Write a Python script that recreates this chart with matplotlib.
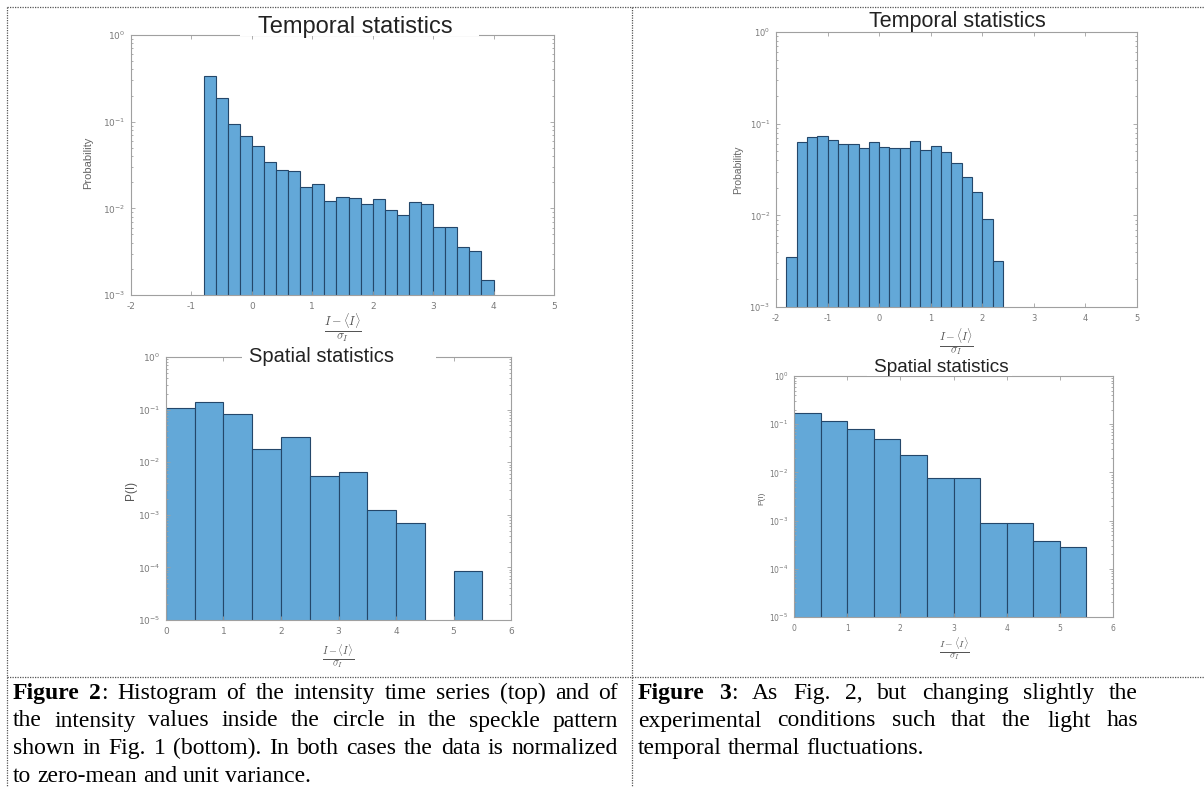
import numpy as np
import matplotlib
matplotlib.use("Agg")
import matplotlib.pyplot as plt
from matplotlib.lines import Line2D
from matplotlib.patches import Rectangle
from matplotlib.ticker import LogLocator, NullFormatter

W, H = 1204, 787

# --- data ---
# Figure 2, top: temporal histogram (bins of 0.2 from -0.8)
tl_start, tl_width = -0.8, 0.2
tl_values = [0.336, 0.189, 0.093, 0.068, 0.052, 0.034, 0.0277, 0.027, 0.0174, 0.019,
             0.012, 0.0134, 0.0133, 0.0111, 0.0129, 0.0096, 0.0084, 0.0117, 0.0111,
             0.0061, 0.0061, 0.0036, 0.0032, 0.0015]
# Figure 3, top: temporal histogram (bins of 0.2 from -1.8)
tr_start, tr_width = -1.8, 0.2
tr_values = [0.0035, 0.0625, 0.072, 0.074, 0.066, 0.060, 0.060, 0.054, 0.0625, 0.056,
             0.054, 0.054, 0.065, 0.051, 0.057, 0.049, 0.037, 0.026, 0.018, 0.0092, 0.0032]
# Figure 2, bottom: spatial histogram (bins of 0.5 from 0)
bl_start, bl_width = 0.0, 0.5
bl_values = [0.105, 0.142, 0.084, 0.0177, 0.0295, 0.0055, 0.0064, 0.00123, 0.00071, 0, 8.5e-5]
# Figure 3, bottom: spatial histogram
br_start, br_width = 0.0, 0.5
br_values = [0.171, 0.115, 0.079, 0.049, 0.023, 0.0078, 0.0078, 0.00088, 0.00088, 0.00037, 0.00028]

caption_left = [
    [[("Figure", "bold")], [("2", "bold"), (":", "normal")], "Histogram", "of", "the",
     "intensity", "time", "series", "(top)", "and", "of"],
    "the intensity values inside the circle in the speckle pattern".split(),
    "shown in Fig. 1 (bottom). In both cases the data is normalized".split(),
    "to zero-mean and unit variance.".split(),
]
caption_right = [
    [[("Figure", "bold")], [("3", "bold"), (":", "normal")], "As", "Fig.", "2,", "but",
     "changing", "slightly", "the"],
    "experimental conditions such that the light has".split(),
    "temporal thermal fluctuations.".split(),
]

plt.rcParams['mathtext.fontset'] = 'cm'
plt.rcParams['axes.unicode_minus'] = False
fig = plt.figure(figsize=(W / 100, H / 100), dpi=100)

bar_face = '#63a8d8'
bar_edge = '#24476a'
axis_col = '#a0a0a0'
tick_col = '#7a7a7a'


def px_axes(l, t, r, b):
    return fig.add_axes([l / W, 1 - b / H, (r - l) / W, (b - t) / H])


def draw_hist(ax, start, width, values, xlim, ylim, xticks, fs):
    vals = np.array(values, dtype=float)
    left = start + width * np.arange(len(vals))
    keep = vals > 0
    ax.bar(left[keep], vals[keep], width=width, align='edge', log=True,
           color=bar_face, edgecolor=bar_edge, linewidth=0.8)
    ax.set_xlim(*xlim)
    ax.set_ylim(*ylim)
    ax.set_xticks(xticks)
    ax.yaxis.set_major_locator(LogLocator(base=10, numticks=10))
    ax.yaxis.set_minor_locator(LogLocator(base=10, subs=np.arange(2, 10), numticks=20))
    ax.yaxis.set_minor_formatter(NullFormatter())
    ax.tick_params(which='both', direction='in', top=True, right=True,
                   colors=axis_col, labelcolor=tick_col, labelsize=fs, width=0.6)
    ax.tick_params(which='major', length=3)
    ax.tick_params(which='minor', length=1.5)
    ax.tick_params(axis='x', pad=5)
    ax.tick_params(axis='y', pad=4)
    for s in ax.spines.values():
        s.set_color(axis_col)
        s.set_linewidth(0.8)


def title_on_axis(xc, yc, text, fs, gap):
    x0, x1 = gap
    fig.patches.append(Rectangle(((x0) / W, 1 - (yc + 9) / H), (x1 - x0) / W, 18 / H,
                                 transform=fig.transFigure, facecolor='white',
                                 edgecolor='none', zorder=5))
    fig.text(xc / W, 1 - yc / H, text, ha='center', va='center', fontsize=fs,
             family='Liberation Sans', color='#222222', zorder=6)


xfrac = r'$\frac{I-\langle I\rangle}{\sigma_I}$'

# top left
ax = px_axes(131, 35, 554, 295)
draw_hist(ax, tl_start, tl_width, tl_values, (-2, 5), (1e-3, 1), range(-2, 6), 6.5)
fig.text(88 / W, 1 - 163 / H, 'Probability', rotation=90, ha='center', va='center',
         fontsize=8, color='#666666', family='Liberation Sans')
fig.text(343 / W, 1 - 328 / H, xfrac, ha='center', va='center', fontsize=12.5, color='#555555')
title_on_axis(355, 27, 'Temporal statistics', 17, (240, 479))

# top right
ax = px_axes(776, 32, 1137, 307)
draw_hist(ax, tr_start, tr_width, tr_values, (-2, 5), (1e-3, 1), range(-2, 6), 6)
fig.text(738 / W, 1 - 170 / H, 'Probability', rotation=90, ha='center', va='center',
         fontsize=7.5, color='#666666', family='Liberation Sans')
fig.text(956 / W, 1 - 342 / H, xfrac, ha='center', va='center', fontsize=11.5, color='#555555')
title_on_axis(957, 22, 'Temporal statistics', 15.5, (859, 1069))

# bottom left
ax = px_axes(166, 357, 511, 620)
draw_hist(ax, bl_start, bl_width, bl_values, (0, 6), (1e-5, 1), range(0, 7), 6.5)
fig.text(131 / W, 1 - 490 / H, 'P(I)', rotation=90, ha='center', va='center',
         fontsize=8.5, color='#555555', family='Liberation Sans')
fig.text(338 / W, 1 - 656 / H, xfrac, ha='center', va='center', fontsize=10.5, color='#555555')
title_on_axis(322, 357, 'Spatial statistics', 14.5, (242, 436))

# bottom right
ax = px_axes(794, 376, 1113, 617)
draw_hist(ax, br_start, br_width, br_values, (0, 6), (1e-5, 1), range(0, 7), 5.5)
fig.text(762 / W, 1 - 498 / H, 'P(I)', rotation=90, ha='center', va='center',
         fontsize=6, color='#666666', family='Liberation Sans')
fig.text(954 / W, 1 - 649 / H, xfrac, ha='center', va='center', fontsize=10, color='#555555')
title_on_axis(941, 367, 'Spatial statistics', 13.7, (867, 1012))

# --- table borders (dotted) ---
def dotted(x0, y0, x1, y1):
    fig.add_artist(Line2D([x0 / W, x1 / W], [1 - y0 / H, 1 - y1 / H], transform=fig.transFigure,
                          color='#555555', linewidth=0.9, linestyle=(0, (1, 1))))

dotted(7, 7, 1204, 7)
dotted(7, 7, 7, 787)
dotted(632, 7, 632, 787)
dotted(7, 677, 1204, 677)

# --- justified captions ---
renderer = fig.canvas.get_renderer()
cap_fs = 17


def text_width(s, weight):
    t = fig.text(0, 0, s, fontsize=cap_fs, family='Liberation Serif', weight=weight)
    w = t.get_window_extent(renderer).width
    t.remove()
    return w


space_w = text_width('a a', 'normal') - 2 * text_width('a', 'normal')


def caption(lines, x0, x1, y0, dy):
    for i, line in enumerate(lines):
        words = [w if isinstance(w, list) else [(w, 'normal')] for w in line]
        widths = [sum(text_width(s, wt) for s, wt in w) for w in words]
        last = i == len(lines) - 1
        gap = space_w if last else (x1 - x0 - sum(widths)) / (len(words) - 1)
        x = x0
        y = y0 + i * dy
        for w, wd in zip(words, widths):
            xx = x
            for s, wt in w:
                fig.text(xx / W, 1 - y / H, s, fontsize=cap_fs, family='Liberation Serif',
                         weight=wt, va='baseline', ha='left', color='black')
                xx += text_width(s, wt)
            x += wd + gap


caption(caption_left, 13, 618, 699, 27.5)
caption(caption_right, 638, 1138, 699, 27.5)

fig.savefig('out.png', dpi=100)
